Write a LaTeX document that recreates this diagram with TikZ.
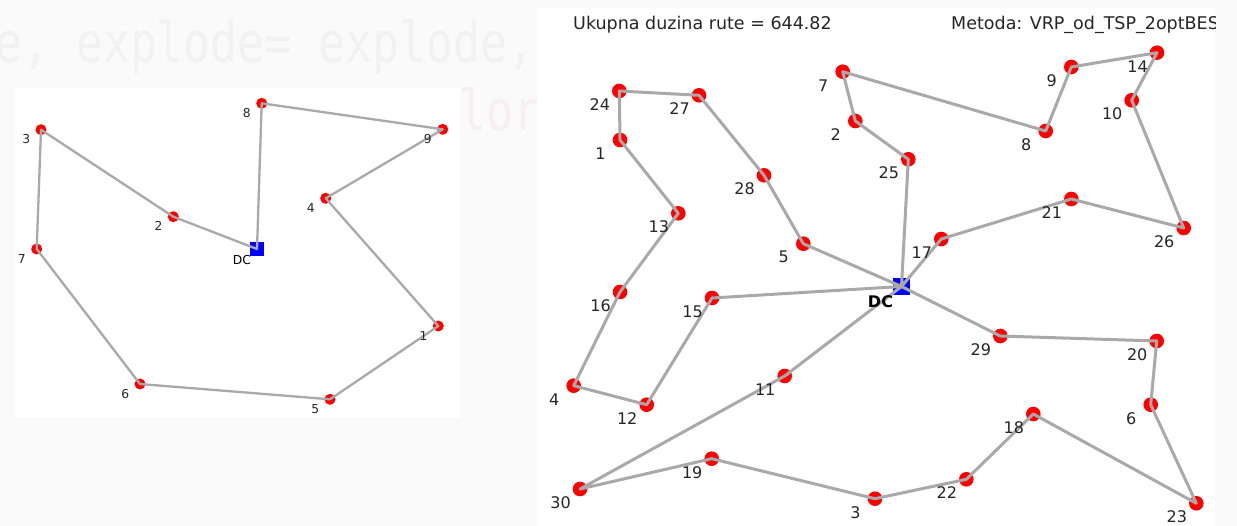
\documentclass[tikz,border=0pt]{standalone}
\usepackage{fontspec}
\setmainfont{DejaVu Sans}
\newfontfamily\bgmono{DejaVu Sans Mono}
\definecolor{bgc}{HTML}{FAFAFB}
\definecolor{edgec}{HTML}{A9A9A9}
\definecolor{labc}{HTML}{262626}
\definecolor{faintc}{HTML}{F2F2F3}
\definecolor{faintp}{HTML}{F8EFEF}
\begin{document}
\begin{tikzpicture}[x=1pt,y=-1pt,
  redR/.style={fill=red},
  edgeR/.style={draw=edgec,line width=3,line cap=round,line join=round},
  edgeL/.style={draw=edgec,line width=2.3,line cap=round,line join=round},
  rlab/.style={font=\fontsize{16}{16}\selectfont,text=labc,inner sep=0},
  llab/.style={font=\fontsize{12.3}{12.3}\selectfont,text=labc,inner sep=0},
  ttl/.style={font=\fontsize{17.5}{17.5}\selectfont,text=labc,inner sep=0,anchor=west},
  bgtxt/.style={font=\bgmono\fontsize{56}{56}\selectfont,xscale=0.8,inner sep=0,anchor=base west}]
% background and panels
\fill[bgc] (0,0) rectangle (1237,526);
\useasboundingbox (0,0) rectangle (1237,526);
\begin{scope}
\clip (0,0) rectangle (1237,526);
\node[bgtxt,text=faintc] (bgA) at (-5,63) {e, explode= explode,};
\node[bgtxt,text=faintp] (bgB) at (459,131) {lor};
\end{scope}
\fill[white] (15,88) rectangle (460,418);
\fill[white] (537,8) rectangle (1215,526);

% ---------------- left plot ----------------
\coordinate (l8) at (261.7,103.3);
\coordinate (l9) at (442.7,129.3);
\coordinate (l3) at (41,129.7);
\coordinate (l2) at (173.3,216.7);
\coordinate (lDC) at (257,249);
\coordinate (l4) at (325.7,198.3);
\coordinate (l7) at (36.7,249);
\coordinate (l1) at (438.3,326);
\coordinate (l6) at (140,384);
\coordinate (l5) at (330,399.3);
\foreach \n in {8,9,3,2,4,7,1,6,5}{\fill[redR] (l\n) circle (5.5);}
\fill[blue] ([shift={(-7,-7)}]lDC) rectangle ([shift={(7,7)}]lDC);
\draw[edgeL] (lDC) -- (l8) -- (l9) -- (l4) -- (l1) -- (l5) -- (l6) -- (l7) -- (l3) -- (l2) -- (lDC);
\foreach \n in {8,9,3,2,4,7,1,6,5}{\node[llab] (ll\n) at ([shift={(-14.8,9.7)}]l\n) {\n};}
\node[llab,text=black] (llDC) at ([shift={(-15,11)}]lDC) {DC};

% ---------------- right plot ----------------
\node[ttl] (t1) at (573,25) {Ukupna duzina rute = 644.82};
\begin{scope}
\clip (537,0) rectangle (1215,526);
\node[ttl] (t2) at (951,25) {Metoda: VRP\_od\_TSP\_2optBEST};
\end{scope}

\coordinate (rDC) at (901.5,286.5);
\coordinate (r24) at (619.3,91);
\coordinate (r27) at (699,95.3);
\coordinate (r1) at (620,140);
\coordinate (r28) at (764,175.3);
\coordinate (r13) at (678.3,213.3);
\coordinate (r5) at (803.3,243.7);
\coordinate (r7) at (842.7,71.7);
\coordinate (r2) at (855.3,121);
\coordinate (r14) at (1157,52.7);
\coordinate (r9) at (1071.3,67);
\coordinate (r10) at (1131.7,100.3);
\coordinate (r8) at (1045.7,131);
\coordinate (r25) at (908.3,159.3);
\coordinate (r21) at (1071.3,199);
\coordinate (r26) at (1183.7,228);
\coordinate (r17) at (941.3,239);
\coordinate (r16) at (620,292);
\coordinate (r15) at (712,298);
\coordinate (r4) at (573.7,385.7);
\coordinate (r12) at (646.7,404.7);
\coordinate (r11) at (784.7,376);
\coordinate (r19) at (711.7,458.7);
\coordinate (r30) at (580,489);
\coordinate (r3) at (875,498.7);
\coordinate (r29) at (1000.3,336);
\coordinate (r20) at (1156.7,341);
\coordinate (r6) at (1150.7,404.7);
\coordinate (r18) at (1033.3,414);
\coordinate (r22) at (966.3,479.3);
\coordinate (r23) at (1196.3,503.3);
\foreach \n in {24,27,1,28,13,5,7,2,14,9,10,8,25,21,26,17,16,15,4,12,11,19,30,3,29,20,6,18,22,23}{\fill[redR] (r\n) circle (7.3);}
\fill[blue] ([shift={(-8.5,-8.5)}]rDC) rectangle ([shift={(8.5,8.5)}]rDC);
\draw[edgeR] (rDC) -- (r25) -- (r2) -- (r7) -- (r8) -- (r9) -- (r14) -- (r10) -- (r26) -- (r21) -- (r17) -- (rDC);
\draw[edgeR] (rDC) -- (r5) -- (r28) -- (r27) -- (r24) -- (r1) -- (r13) -- (r16) -- (r4) -- (r12) -- (r15) -- (rDC);
\draw[edgeR] (rDC) -- (r11) -- (r30) -- (r19) -- (r3) -- (r22) -- (r18) -- (r23) -- (r6) -- (r20) -- (r29) -- (rDC);
\foreach \n in {24,27,1,28,13,5,7,2,14,9,10,8,25,21,26,17,16,15,4,12,11,19,30,3,29,20,6,18,22,23}{\node[rlab] (rl\n) at ([shift={(-19.5,13.5)}]r\n) {\n};}
\node[rlab,text=black,font=\bfseries\fontsize{16}{16}\selectfont] (rlDC) at ([shift={(-21,15.5)}]rDC) {DC};
\end{tikzpicture}
\end{document}
